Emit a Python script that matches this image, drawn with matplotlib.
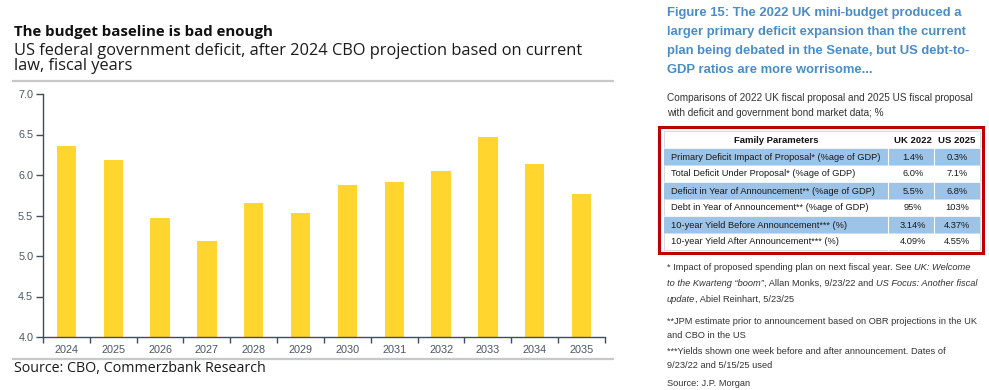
import matplotlib
matplotlib.use("Agg")
import matplotlib.pyplot as plt
from matplotlib.patches import Rectangle
import numpy as np

# data
years = ["2024", "2025", "2026", "2027", "2028", "2029",
         "2030", "2031", "2032", "2033", "2034", "2035"]
deficit = [6.36, 6.19, 5.47, 5.19, 5.66, 5.53, 5.88, 5.91, 6.05, 6.47, 6.14, 5.77]
yticks = [4.0, 4.5, 5.0, 5.5, 6.0, 6.5, 7.0]

table_header = ["Family Parameters", "UK 2022", "US 2025"]
table_params = [
    "Primary Deficit Impact of Proposal* (%age of GDP)",
    "Total Deficit Under Proposal* (%age of GDP)",
    "Deficit in Year of Announcement** (%age of GDP)",
    "Debt in Year of Announcement** (%age of GDP)",
    "10-year Yield Before Announcement*** (%)",
    "10-year Yield After Announcement*** (%)",
]
uk_2022 = ["1.4%", "6.0%", "5.5%", "95%", "3.14%", "4.09%"]
us_2025 = ["0.3%", "7.1%", "6.8%", "103%", "4.37%", "4.55%"]

plt.rcParams['font.family'] = ['Liberation Sans', 'DejaVu Sans']

W, H = 989, 390
fig = plt.figure(figsize=(W / 100, H / 100), dpi=100)

# overlay in pixel coords for the text panels
ov = fig.add_axes([0, 0, 1, 1])
ov.set_xlim(0, W)
ov.set_ylim(H, 0)
ov.axis('off')

# ---- left chart ----
axc = '#3f4d5c'
ax = fig.add_axes([43 / W, 1 - 337 / H, (605 - 43) / W, (337 - 94) / H])
x = np.arange(len(years))
ax.bar(x, deficit, width=0.41, color='#FFD52E', zorder=2)
ax.set_xlim(-0.5, len(years) - 0.5)
ax.set_ylim(4, 7)
ax.set_yticks(yticks)
ax.set_yticklabels([f"{v:.1f}" for v in yticks])
ax.set_xticks(x)
ax.set_xticklabels(years)
ax.set_xticks(np.arange(-0.5, len(years)), minor=True)
ax.tick_params(axis='x', which='major', length=0, pad=6, labelsize=7.8, labelcolor='#4a5563')
ax.tick_params(axis='x', which='minor', length=4, width=1, color=axc)
ax.tick_params(axis='y', length=5, width=1, pad=2, color=axc, labelsize=7.8, labelcolor='#4a5563')
for s in ['top', 'right']:
    ax.spines[s].set_visible(False)
for s in ['left', 'bottom']:
    ax.spines[s].set_color(axc)
    ax.spines[s].set_linewidth(1)

ov.plot([13, 613], [81, 81], color='#c8c8c8', lw=1.6)
ov.plot([13, 613], [359, 359], color='#c8c8c8', lw=1.6)

tfont = ['Open Sans', 'DejaVu Sans']
ov.text(14, 32, "The budget baseline is bad enough", fontsize=10.8, fontweight='bold',
        family=tfont, color='#111111', va='center')
ov.text(14, 51, "US federal government deficit, after 2024 CBO projection based on current",
        fontsize=11.8, family=tfont, color='#1a1a1a', va='center')
ov.text(14, 66, "law, fiscal years", fontsize=11.8, family=tfont, color='#1a1a1a', va='center')
ov.text(14, 369, "Source: CBO, Commerzbank Research", fontsize=10.3, family=tfont,
        color='#1a1a1a', va='center')

# ---- right panel ----
blue = '#4A8CC8'
for i, line in enumerate(["Figure 15: The 2022 UK mini-budget produced a",
                          "larger primary deficit expansion than the current",
                          "plan being debated in the Senate, but US debt-to-",
                          "GDP ratios are more worrisome..."]):
    ov.text(667, 13 + 19 * i, line, fontsize=9.4, fontweight='bold', color=blue, va='center')

ov.text(667, 98, "Comparisons of 2022 UK fiscal proposal and 2025 US fiscal proposal",
        fontsize=7.2, color='#333333', va='center')
ov.text(667, 113, "with deficit and government bond market data; %",
        fontsize=7.2, color='#333333', va='center')

# table
x0, x1, x2, x3 = 664, 888, 934, 980
top, hh, rh = 131, 17, 17
ov.add_patch(Rectangle((661, 129), 324, 126, facecolor='#bdbdbd', edgecolor='none', alpha=0.6))
ov.add_patch(Rectangle((659, 127), 324, 126, facecolor='white', edgecolor='#C00000', lw=2.2))
ov.add_patch(Rectangle((x0, top), x3 - x0, hh + rh * len(table_params),
                       facecolor='none', edgecolor='#d4d4d4', lw=0.6))
ov.text((x0 + x1) / 2, top + hh / 2 + 1, table_header[0], fontsize=6.8, fontweight='bold',
        ha='center', va='center', color='#111111')
ov.text((x1 + x2) / 2 + 2, top + hh / 2 + 1, table_header[1], fontsize=6.8, fontweight='bold',
        ha='center', va='center', color='#111111')
ov.text((x2 + x3) / 2, top + hh / 2 + 1, table_header[2], fontsize=6.8, fontweight='bold',
        ha='center', va='center', color='#111111')
for i, (p, u, s) in enumerate(zip(table_params, uk_2022, us_2025)):
    ry = top + hh + rh * i
    if i % 2 == 0:
        ov.add_patch(Rectangle((x0, ry), x3 - x0, rh, facecolor='#9DC3E6', edgecolor='none'))
    ov.plot([x0, x3], [ry, ry], color='white' if i % 2 == 0 else '#d4d4d4', lw=0.6)
    ov.plot([x1, x1], [ry, ry + rh], color='white', lw=0.8)
    ov.plot([x2, x2], [ry, ry + rh], color='white', lw=0.8)
    cy = ry + rh / 2 + 0.5
    ov.text(671, cy, p, fontsize=6.7, va='center', color='#1a1a1a')
    ov.text((x1 + x2) / 2 + 2, cy, u, fontsize=6.7, va='center', ha='center', color='#1a1a1a')
    ov.text((x2 + x3) / 2, cy, s, fontsize=6.7, va='center', ha='center', color='#1a1a1a')

# footnotes with italic pieces, laid out along a shared baseline
fn = 6.7
fc = '#333333'
renderer = fig.canvas.get_renderer()


def line(y, pieces):
    xpos = 667
    for txt, style in pieces:
        t = ov.text(xpos, y + 2.5, txt, fontsize=fn, style=style, color=fc, va='baseline')
        bb = t.get_window_extent(renderer)
        xpos += bb.width  # 1 px == 1 data unit in the overlay


line(267, [("* Impact of proposed spending plan on next fiscal year. See ", 'normal'),
           ("UK: Welcome", 'italic')])
line(283, [("to the Kwarteng \u201cboom\u201d", 'italic'),
           (", Allan Monks, 9/23/22 and ", 'normal'),
           ("US Focus: Another fiscal", 'italic')])
line(299, [("update", 'italic'), (", Abiel Reinhart, 5/23/25", 'normal')])
line(321, [("**JPM estimate prior to announcement based on OBR projections in the UK", 'normal')])
line(336, [("and CBO in the US", 'normal')])
line(351, [("***Yields shown one week before and after announcement. Dates of", 'normal')])
line(366, [("9/23/22 and 5/15/25 used", 'normal')])
line(383, [("Source: J.P. Morgan", 'normal')])

fig.savefig("out.png", dpi=100)
